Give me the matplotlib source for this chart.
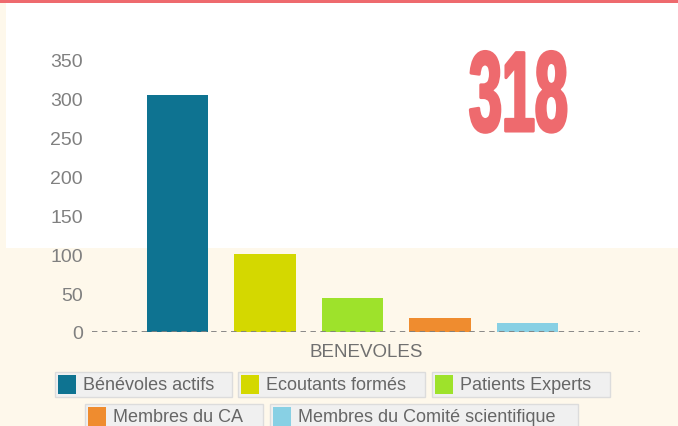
import matplotlib
matplotlib.use("Agg")
import numpy as np
import matplotlib.pyplot as plt
from matplotlib.patches import Rectangle
from matplotlib.transforms import Affine2D
from matplotlib import patheffects

# ===============================
# DATA
# ===============================
category = "BENEVOLES"
series_names = ["Bénévoles actifs", "Ecoutants formés", "Patients Experts",
                "Membres du CA", "Membres du Comité scientifique"]
series_values = [305, 100, 44, 18, 12]
series_colors = ["#0e7391", "#d4d800", "#9ee22b", "#ef8c2f", "#88d0e4"]
total_label = "318"
y_ticks = [0, 50, 100, 150, 200, 250, 300, 350]

# ===============================
# STYLE
# ===============================
W, H = 678, 427
CREAM = "#fef8eb"
RED = "#ee6a6e"
plt.rcParams["font.family"] = ["Liberation Sans", "DejaVu Sans"]


def px(x, y, w, h):
    # pixel box (top-left origin) -> figure fraction
    return (x / W, 1 - (y + h) / H), w / W, h / H


class Squeeze(patheffects.AbstractPathEffect):
    # narrow the glyphs horizontally and thicken them a bit
    def __init__(self, sx, lw):
        super().__init__()
        self.sx = sx
        self.lw = lw

    def draw_path(self, renderer, gc, tpath, affine, rgbFace=None):
        gc0 = renderer.new_gc()
        gc0.copy_properties(gc)
        gc0.set_linewidth(self.lw)
        gc0.set_foreground(rgbFace)
        gc0.set_joinstyle("round")
        renderer.draw_path(gc0, tpath, Affine2D().scale(self.sx, 1) + affine, rgbFace)
        gc0.restore()


fig = plt.figure(figsize=(W / 100, H / 100), dpi=100, facecolor=CREAM)

# background panels
for (x, y, w, h, c) in [(0, 0, W, 4, RED), (6, 4, W - 6, 245, "white")]:
    xy, fw, fh = px(x, y, w, h)
    fig.add_artist(Rectangle(xy, fw, fh, transform=fig.transFigure,
                             facecolor=c, edgecolor="none", zorder=-5))

# ===============================
# CHART
# ===============================
ax = fig.add_axes([92 / W, (H - 333) / H, (640 - 92) / W, (333 - 61) / H])
ax.set_facecolor("none")

x = np.arange(len(series_values))
ax.bar(x, series_values, width=0.7, color=series_colors, zorder=2)
ax.axhline(0, color="#808080", lw=1.3, dashes=(3, 2.5), zorder=3)

ax.set_xlim(-0.977, 5.286)
ax.set_ylim(0, 350)
ax.set_yticks(y_ticks)
ax.set_xticks([])
ax.tick_params(axis="y", length=0, pad=6.5, labelsize=14, labelcolor="#808080")
for s in ax.spines.values():
    s.set_visible(False)

ax.text(0.5, -0.07, category, transform=ax.transAxes, ha="center", va="center",
        fontsize=13.5, color="#707070")

# big total number
fig.text(469 / W, 1 - 132 / H, total_label, ha="left", va="baseline",
         fontsize=82, fontweight="bold", color=RED,
         path_effects=[Squeeze(0.52, 2.2)])

# ===============================
# LEGEND (two centred rows)
# ===============================
legend_boxes = [(55, 373, 177), (238, 373, 187), (432, 373, 178),
                (85, 405, 178), (270, 405, 308)]
for (bx, by, bw), name, col in zip(legend_boxes, series_names, series_colors):
    xy, fw, fh = px(bx, by, bw, 25)
    fig.add_artist(Rectangle(xy, fw, fh, transform=fig.transFigure,
                             facecolor="#f0f0f0", edgecolor="#dcdcdc", lw=1, zorder=1))
    xy, fw, fh = px(bx + 3, by + 3, 18, 19)
    fig.add_artist(Rectangle(xy, fw, fh, transform=fig.transFigure,
                             facecolor=col, edgecolor="none", zorder=2))
    fig.text((bx + 28) / W, 1 - (by + 13) / H, name, ha="left", va="center",
             fontsize=13, color="#666666", zorder=3)

fig.savefig("out.png", dpi=100, facecolor=CREAM)
